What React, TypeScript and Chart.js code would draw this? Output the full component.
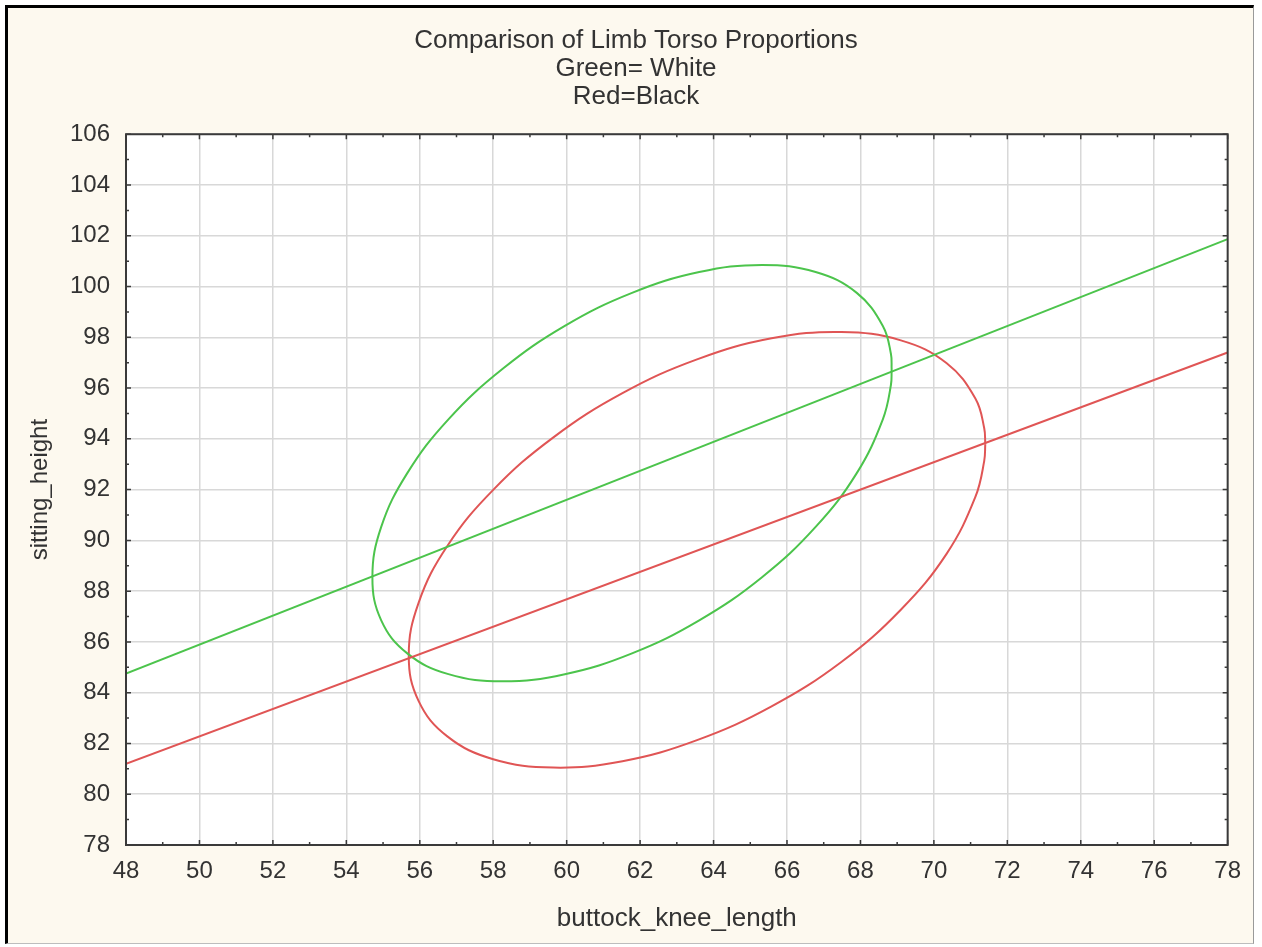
import React, { useEffect, useRef } from "react";
import { Chart, registerables } from "chart.js";

Chart.register(...registerables);

const titleLines = ["Comparison of Limb Torso Proportions", "Green= White", "Red=Black"];
const xAxisTitle = "buttock_knee_length";
const yAxisTitle = "sitting_height";

const xMin = 48;
const xMax = 78;
const yMin = 78;
const yMax = 106;
const tickStep = 2;

// Green (White) ellipse (closed: last point = first point)
const greenEllipse: [number, number][] = [
  [68.85, 96.75], [68.83, 97.35], [68.61, 98.45], [67.9, 99.75], [66.78, 100.57],
  [65.32, 100.85], [63.61, 100.57], [61.78, 99.75], [59.95, 98.45], [58.25, 96.75],
  [56.78, 94.77], [55.66, 92.65], [54.95, 90.53], [54.71, 88.55], [54.95, 86.85],
  [55.66, 85.55], [56.78, 84.73], [58.25, 84.45], [59.95, 84.73], [61.78, 85.55],
  [63.61, 86.85], [65.32, 88.55], [66.78, 90.53], [67.9, 92.65], [68.61, 94.77],
  [68.83, 96.12], [68.85, 96.75],
];

// Red (Black) ellipse (closed: last point = first point)
const redEllipse: [number, number][] = [
  [71.4, 93.79], [71.37, 94.43], [71.13, 95.59], [70.35, 96.98], [69.1, 97.88],
  [67.48, 98.21], [65.58, 97.96], [63.55, 97.13], [61.52, 95.8], [59.63, 94.05],
  [58.0, 91.99], [56.75, 89.78], [55.97, 87.55], [55.7, 85.47], [55.97, 83.67],
  [56.75, 82.28], [58.0, 81.38], [59.63, 81.05], [61.52, 81.3], [63.55, 82.13],
  [65.58, 83.46], [67.48, 85.21], [69.1, 87.27], [70.35, 89.48], [71.13, 91.71],
  [71.37, 93.12], [71.4, 93.79],
];

// Regression lines
const greenLine: [number, number][] = [[48, 84.75], [78, 101.87]];
const redLine: [number, number][] = [[48, 81.2], [78, 97.4]];

const GREEN = "#4cc44c";
const RED = "#e05555";
const TEXT = "#333333";
const FONT = "'Liberation Sans', Arial, sans-serif";

const toPts = (arr: [number, number][]) => arr.map(([x, y]) => ({ x, y }));

const framePlugin = {
  id: "frame",
  beforeDraw(chart: any) {
    const { ctx, chartArea: a } = chart;
    ctx.save();
    ctx.fillStyle = "#ffffff";
    ctx.fillRect(a.left, a.top, a.right - a.left, a.bottom - a.top);
    ctx.restore();
  },
  afterDraw(chart: any) {
    const { ctx, chartArea: a, scales } = chart;
    ctx.save();
    ctx.strokeStyle = "#3a3a3a";
    ctx.lineWidth = 1.5;
    for (let v = xMin; v <= xMax; v += 1) {
      const px = scales.x.getPixelForValue(v);
      const len = v % 2 === 0 ? 5 : 3;
      ctx.beginPath();
      ctx.moveTo(px, a.bottom);
      ctx.lineTo(px, a.bottom - len);
      ctx.moveTo(px, a.top);
      ctx.lineTo(px, a.top + len);
      ctx.stroke();
    }
    for (let v = yMin; v <= yMax; v += 1) {
      const py = scales.y.getPixelForValue(v);
      const len = v % 2 === 0 ? 5 : 3;
      ctx.beginPath();
      ctx.moveTo(a.left, py);
      ctx.lineTo(a.left + len, py);
      ctx.moveTo(a.right, py);
      ctx.lineTo(a.right - len, py);
      ctx.stroke();
    }
    ctx.lineWidth = 2;
    ctx.strokeRect(a.left, a.top, a.right - a.left, a.bottom - a.top);
    ctx.restore();
  },
};

export default function App() {
  const ref = useRef<HTMLCanvasElement | null>(null);

  useEffect(() => {
    if (!ref.current) return;
    const lineDs = (label: string, data: [number, number][], color: string, tension: number) => ({
      label,
      data: toPts(data),
      showLine: true,
      borderColor: color,
      backgroundColor: color,
      borderWidth: 2,
      pointRadius: 0,
      tension,
      fill: false,
    });
    const chart = new Chart(ref.current, {
      type: "scatter",
      data: {
        datasets: [
          lineDs("Green line", greenLine, GREEN, 0),
          lineDs("Red line", redLine, RED, 0),
          lineDs("Green ellipse", greenEllipse, GREEN, 0.4),
          lineDs("Red ellipse", redEllipse, RED, 0.4),
        ],
      },
      options: {
        animation: false,
        responsive: false,
        devicePixelRatio: 1,
        layout: { padding: { left: 34, right: 23, top: 0, bottom: 0 } },
        plugins: {
          legend: { display: false },
          tooltip: { enabled: false },
          title: {
            display: true,
            text: titleLines,
            color: TEXT,
            font: { family: FONT, size: 26, weight: "normal", lineHeight: 1.08 },
            padding: { top: 19, bottom: 23 },
          },
        },
        scales: {
          x: {
            type: "linear",
            min: xMin,
            max: xMax,
            afterFit: (s: any) => { s.height = 98; },
            ticks: {
              stepSize: tickStep,
              color: TEXT,
              padding: 12,
              font: { family: FONT, size: 24 },
            },
            grid: { color: "#d8d8d8", lineWidth: 1.5, drawTicks: false },
            border: { display: false },
            title: {
              display: true,
              text: xAxisTitle,
              color: TEXT,
              font: { family: FONT, size: 26 },
              padding: { top: 0, bottom: 9 },
            },
          },
          y: {
            type: "linear",
            min: yMin,
            max: yMax,
            afterFit: (s: any) => { s.width = 84; },
            ticks: {
              stepSize: tickStep,
              color: TEXT,
              padding: 16,
              font: { family: FONT, size: 24 },
            },
            grid: { color: "#d8d8d8", lineWidth: 1.5, drawTicks: false },
            border: { display: false },
            title: {
              display: true,
              text: yAxisTitle,
              color: TEXT,
              font: { family: FONT, size: 24 },
              padding: { top: -16, bottom: 0 },
            },
          },
        },
      },
      plugins: [framePlugin],
    } as any);
    return () => chart.destroy();
  }, []);

  return (
    <div
      style={{
        position: "absolute",
        left: 5,
        top: 5,
        width: 1245,
        height: 935,
        borderLeft: "3px solid #000",
        borderTop: "3px solid #000",
        borderRight: "1px solid #9a9a9a",
        borderBottom: "1px solid #bdbdbd",
        background: "#fdf9ef",
      }}
    >
      <canvas ref={ref} width={1245} height={935} style={{ display: "block", width: 1245, height: 935 }} />
    </div>
  );
}
